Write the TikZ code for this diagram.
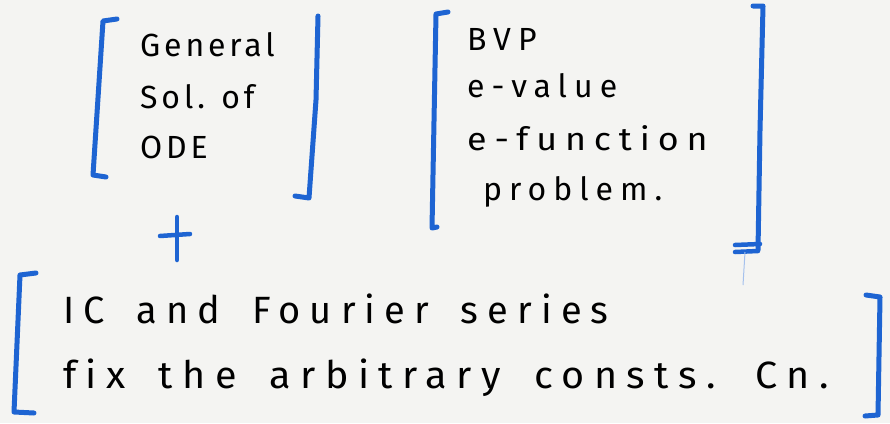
\documentclass[tikz,border=0pt]{standalone}
\usepackage{fontspec}
\newfontfamily\handA[LetterSpace=12,Ligatures=NoCommon]{Fira Sans}
\newfontfamily\handB[LetterSpace=22,Ligatures=NoCommon]{Fira Sans}
\newfontfamily\handC[LetterSpace=24,WordSpace=1.65,Ligatures=NoCommon]{Fira Sans}
\definecolor{marker}{RGB}{30,100,210}
\definecolor{paper}{RGB}{244,244,242}
\begin{document}
\begin{tikzpicture}[x=1pt,y=-1pt,
  brk/.style={draw=marker,line width=5pt,line cap=round,line join=round},
  plusmark/.style={draw=marker,line width=4.5pt,line cap=round},
  txtA/.style={anchor=base west,inner sep=0pt,font=\handA\fontsize{32}{32}\selectfont,text=black},
  txtB/.style={anchor=base west,inner sep=0pt,font=\handB\fontsize{32}{32}\selectfont,text=black},
  txtC/.style={anchor=base west,inner sep=0pt,font=\handC\fontsize{38}{38}\selectfont,text=black}]
\fill[paper] (0,0) rectangle (890,423);
\useasboundingbox (0,0) rectangle (890,423);
% box 1
\node[txtA] (g1) at (140,56) {General};
\node[txtA] (g2) at (140,108) {Sol. of};
\node[txtA] (g3) at (140,158) {ODE};
\draw[brk] (117,19) -- (103,21) -- (93,175) -- (106,177);
\draw[brk] (318,16) -- (316,100) -- (309,198) -- (295,196);
% plus
\draw[plusmark] (177,217) -- (177,260);
\draw[plusmark] (160,236) -- (190,234);
% box 2
\node[txtB] (b1) at (467,50) {BVP};
\node[txtB] (b2) at (467,97) {e-value};
\node[txtB,xscale=1.12] (b3) at (467,150) {e-function};
\node[txtB] (b4) at (483,200) {problem.};
\draw[brk] (448,12) -- (436,14) -- (432,228) -- (437,227);
\draw[brk] (753,6) -- (763,6) -- (760,130) -- (758,250);
\draw[plusmark] (735,245) -- (760,244);
\draw[plusmark] (735,252) -- (758,251);
\draw[draw=marker!40,line width=1pt] (745,252) -- (743,285);
% box 3
\node[txtC] (c1) at (63,323) {IC and Fourier series};
\node[txtC,xscale=1.04] (c2) at (63,388) {fix the arbitrary consts. Cn.};
\draw[brk] (36,273) -- (20,275) -- (14,412) -- (34,413);
\draw[brk] (866,295) -- (880,297) -- (878,415) -- (865,416);
\end{tikzpicture}
\end{document}
